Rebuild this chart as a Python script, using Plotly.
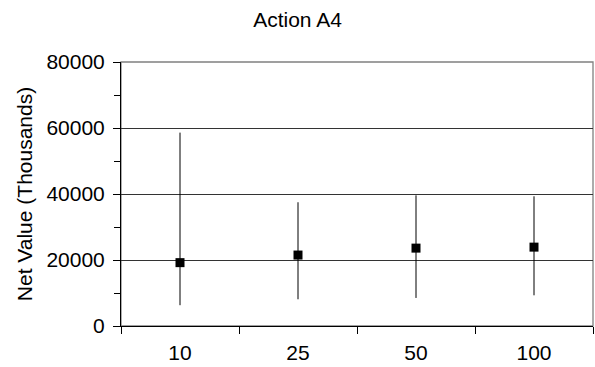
import plotly.graph_objects as go

categories = ["10", "25", "50", "100"]
means = [19200, 21500, 23600, 23900]
upper = [58600, 37500, 39600, 39300]
lower = [6300, 8100, 8500, 9300]

err_plus = [u - m for u, m in zip(upper, means)]
err_minus = [m - l for m, l in zip(means, lower)]

FONT = "Arial, Liberation Sans, sans-serif"
FS = 21

fig = go.Figure()
fig.add_trace(go.Scatter(
    x=categories, y=means, mode="markers",
    marker=dict(symbol="square", size=9, color="black"),
    error_y=dict(type="data", symmetric=False, array=err_plus, arrayminus=err_minus,
                 color="black", thickness=1, width=0),
    showlegend=False,
))

fig.add_shape(type="rect", xref="paper", yref="paper", x0=0, x1=1, y0=0, y1=1,
              line=dict(color="#808080", width=1.3), layer="below")

fig.update_layout(
    width=595, height=367,
    margin=dict(l=121, r=2, t=62, b=41),
    paper_bgcolor="white", plot_bgcolor="white",
    font=dict(family=FONT, size=FS, color="black"),
    title=dict(text="Action A4", x=0.5, xref="container", y=1 - 20 / 367,
               yref="container", yanchor="middle", xanchor="center",
               font=dict(size=FS, family=FONT, color="black")),
)
fig.update_xaxes(
    type="category", tickson="boundaries", ticks="outside", ticklen=7,
    tickcolor="black", showline=True, linecolor="black", linewidth=1,
    showgrid=False, tickfont=dict(size=FS), range=[-0.5, 3.5],
    ticklabelstandoff=8,
)
fig.update_yaxes(
    range=[0, 80000], tickvals=[0, 20000, 40000, 60000, 80000],
    ticktext=["0", "20000", "40000", "60000", "80000"],
    ticks="outside", ticklen=7, tickcolor="black",
    showline=True, linecolor="black", linewidth=1,
    showgrid=True, gridcolor="#333333", gridwidth=1,
    zeroline=False,
    minor=dict(tickvals=[10000, 30000, 50000, 70000], ticks="outside", ticklen=6,
               tickcolor="black", showgrid=False),
    title=dict(text="Net Value (Thousands)", standoff=8, font=dict(size=FS)),
    tickfont=dict(size=FS), ticklabelstandoff=4,
)

fig.write_html("out.html")
